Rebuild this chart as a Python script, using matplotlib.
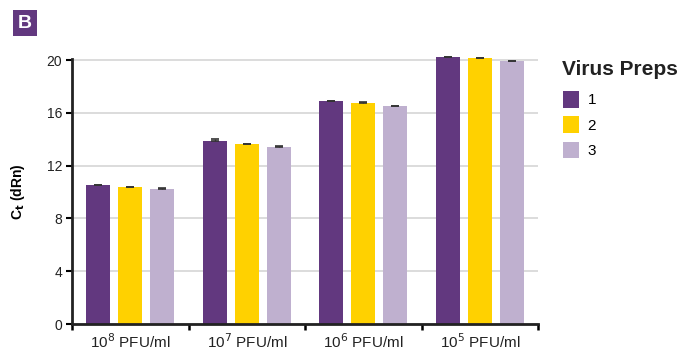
import numpy as np
import matplotlib.pyplot as plt
from matplotlib.patches import Patch

plt.rcParams['font.family'] = ['Liberation Sans', 'DejaVu Sans']

groups = ['10$^8$ PFU/ml', '10$^7$ PFU/ml', '10$^6$ PFU/ml', '10$^5$ PFU/ml']
preps = ['1', '2', '3']
ct_prep1 = [10.53, 13.86, 16.90, 20.22]
ct_prep2 = [10.38, 13.64, 16.76, 20.12]
ct_prep3 = [10.23, 13.42, 16.50, 19.90]
err_prep1 = [0.03, 0.15, 0.03, 0.04]
err_prep2 = [0.03, 0.03, 0.03, 0.04]
err_prep3 = [0.05, 0.08, 0.03, 0.04]
colors = ['#62387f', '#ffd100', '#bfb0cf']

fig = plt.figure(figsize=(6.94, 3.56), dpi=100)
ax = fig.add_axes([72/694, 1-324/356, 466/694, (324-58.7)/356])

x = np.arange(len(groups))
width = 0.206
pitch = 0.275
for i, (vals, errs) in enumerate(zip([ct_prep1, ct_prep2, ct_prep3],
                                     [err_prep1, err_prep2, err_prep3])):
    pos = x + (i-1)*pitch
    ax.bar(pos, vals, width, color=colors[i], zorder=3, clip_on=False)
    # upper half of the error bars only
    eb = ax.errorbar(pos, vals, yerr=[np.zeros(len(errs)), errs], fmt='none',
                     ecolor='#333333', elinewidth=1, capsize=3, capthick=1.2, zorder=4)
    for art in eb.lines[1] + eb.lines[2]:
        art.set_clip_on(False)

ax.set_xlim(-0.5, 3.5)
ax.set_ylim(0, 20.1)
ax.set_yticks([0, 4, 8, 12, 16, 20])
ax.yaxis.grid(True, color='#d9d9d9', lw=1.3, zorder=0)
ax.set_axisbelow(True)

ax.set_xticks([-0.5, 0.5, 1.5, 2.5, 3.5])
ax.set_xticklabels([])
ax.set_xticks(x, minor=True)
ax.set_xticklabels(groups, minor=True, fontsize=11, color='#222222')
ax.tick_params(axis='x', which='minor', length=0, width=0, pad=6)
ax.tick_params(axis='x', which='major', length=4, width=1.8, direction='out')
ax.tick_params(axis='y', length=4, width=1.5, labelsize=10, pad=3, labelcolor='#222222')

for s in ['top', 'right']:
    ax.spines[s].set_visible(False)
for s in ['left', 'bottom']:
    ax.spines[s].set_linewidth(2)
    ax.spines[s].set_color('#222222')
    ax.spines[s].set_zorder(5)

ax.set_ylabel('C$_\\mathbf{t}$ (dRn)', fontsize=10, fontweight='bold', labelpad=14)

fig.text(562/694, 1-60/356, 'Virus Preps', fontsize=15, fontweight='bold',
         color='#222222', ha='left', va='top')
handles = [Patch(facecolor=c, label=p) for c, p in zip(colors, preps)]
leg = fig.legend(handles=handles, loc='upper left',
                 bbox_to_anchor=(563/694, 1-91/356), frameon=False, fontsize=11,
                 borderpad=0, borderaxespad=0,
                 handlelength=1.05, handleheight=1.3, labelspacing=0.57, handletextpad=0.55)

fig.text(25/694, 1-23/356, 'B', fontsize=14, fontweight='bold', color='white',
         ha='center', va='center',
         bbox=dict(boxstyle='square,pad=0.25', facecolor='#62387f', edgecolor='none'))

fig.savefig('out.png', dpi=100)
